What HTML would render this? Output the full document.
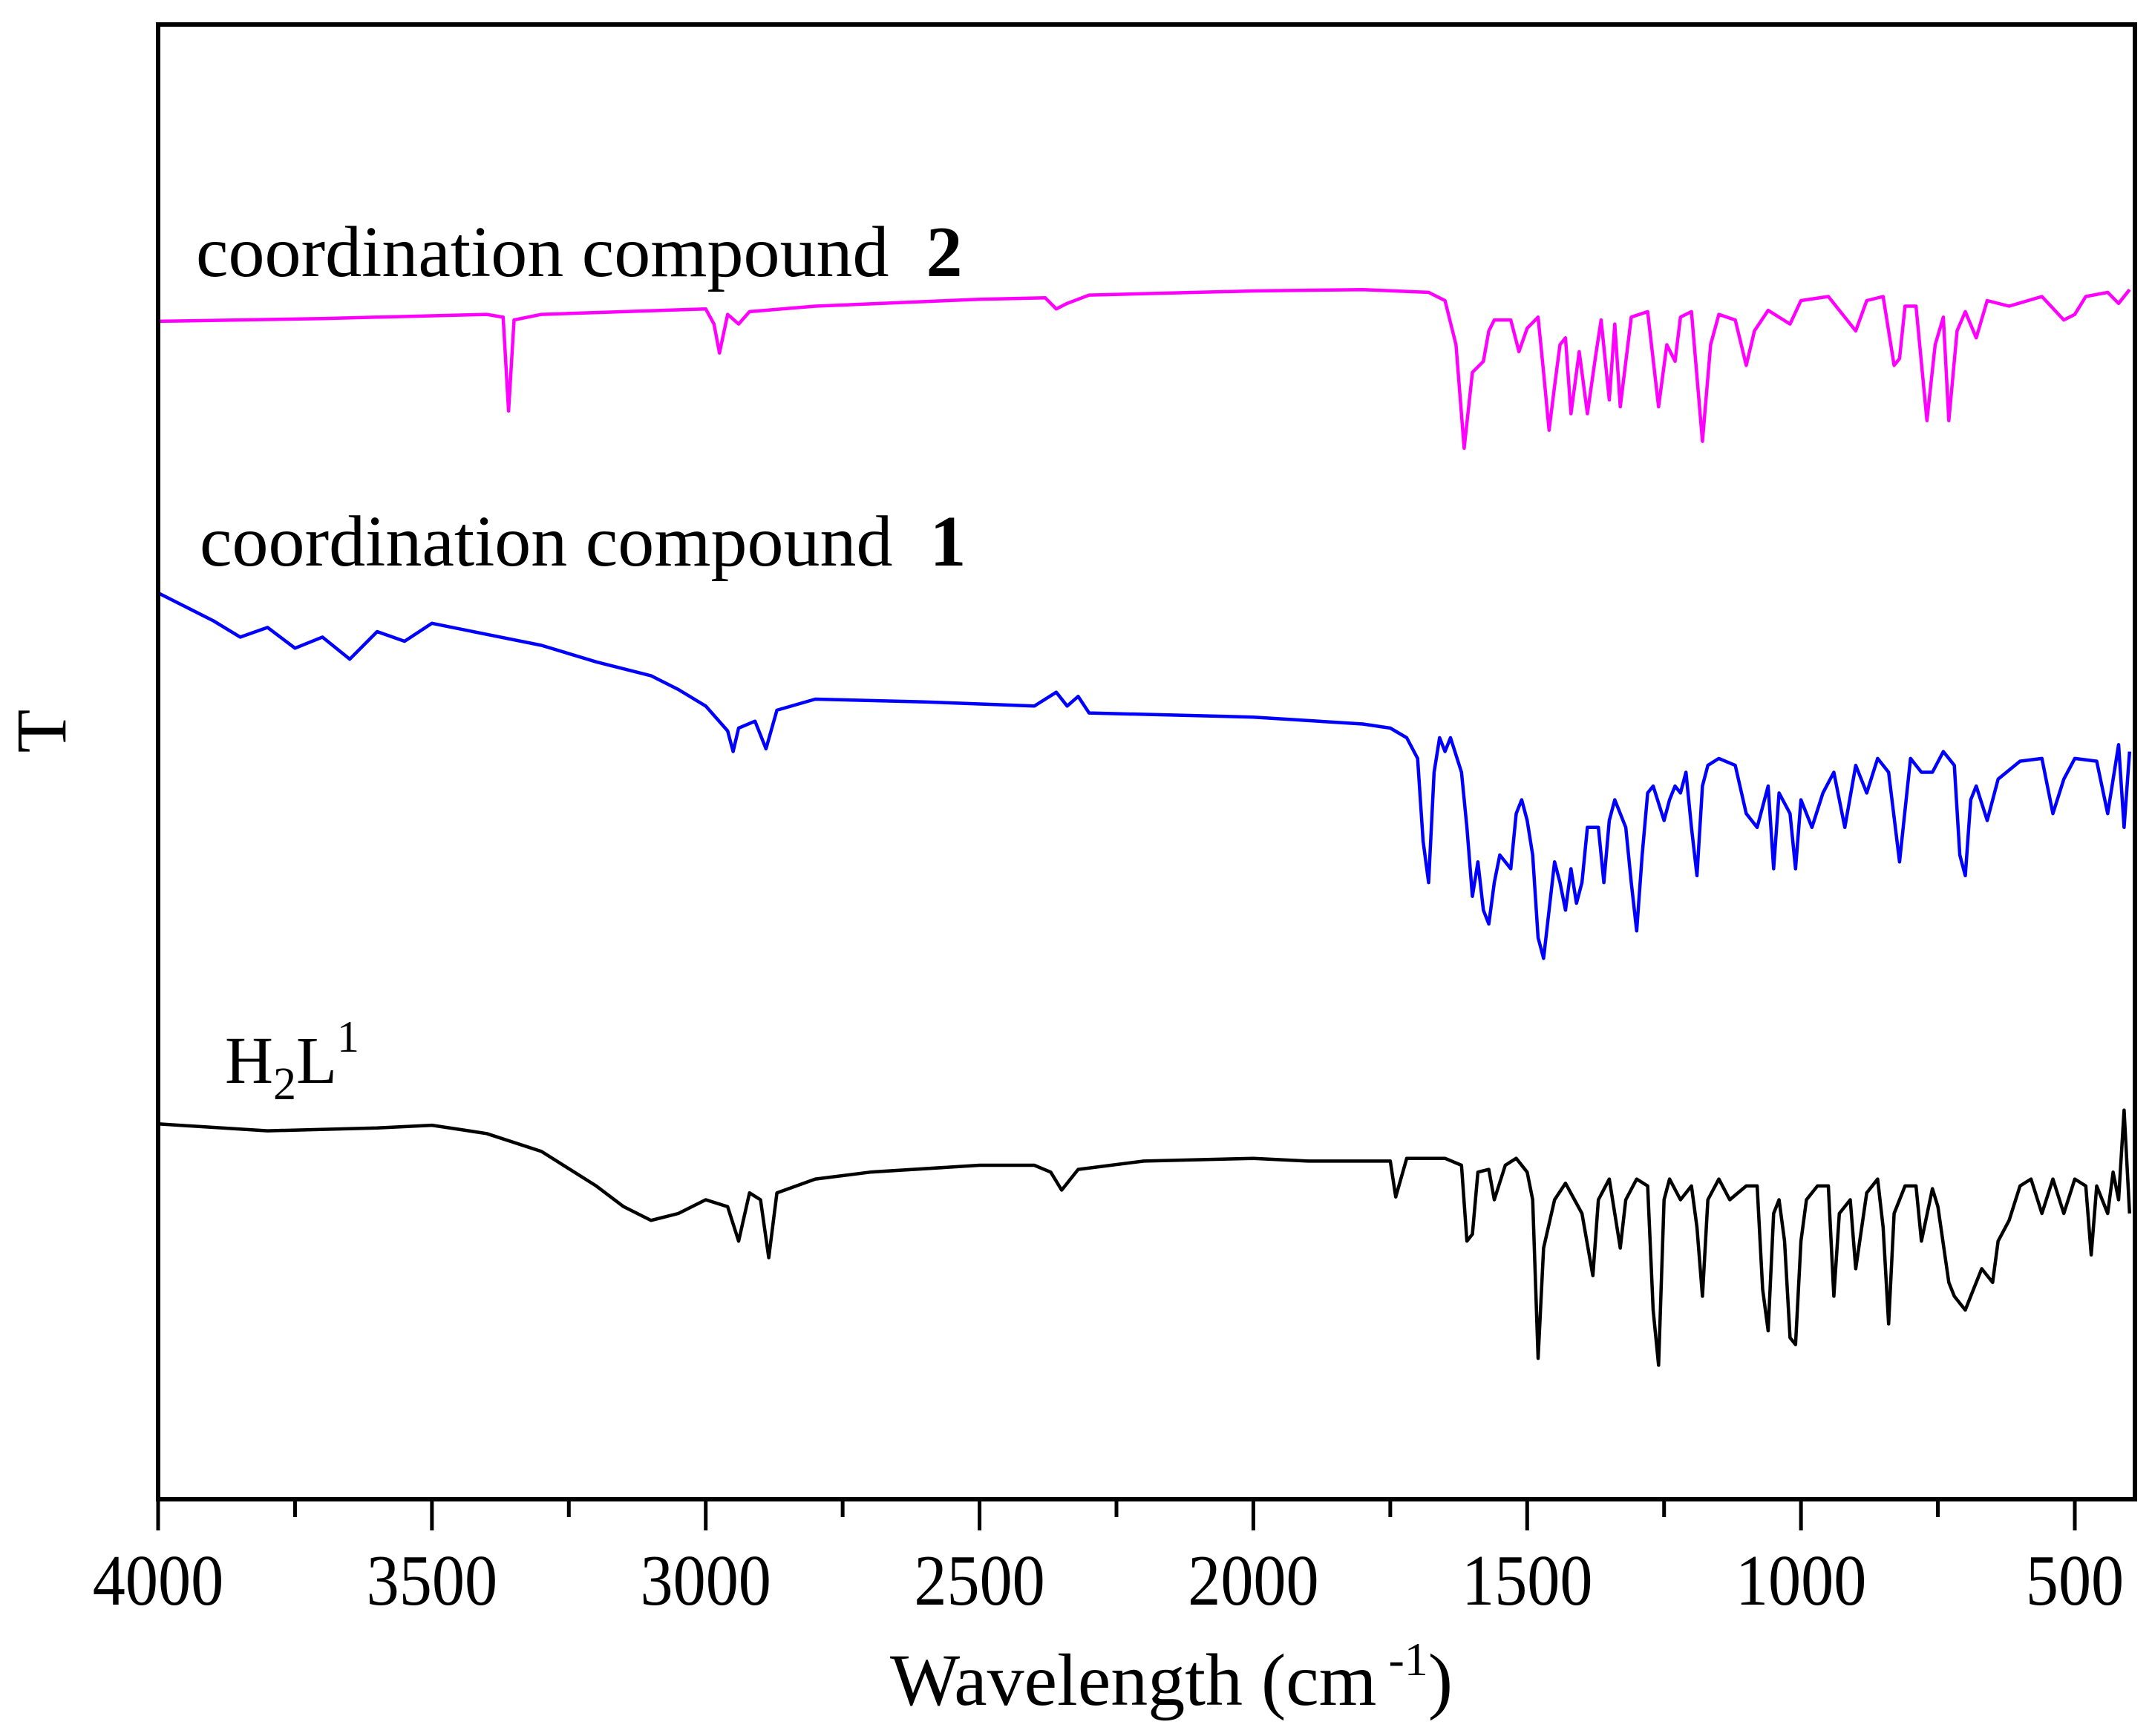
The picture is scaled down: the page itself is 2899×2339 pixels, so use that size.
<!DOCTYPE html>
<html><head><meta charset="utf-8"><style>
html,body{margin:0;padding:0;background:#fff;}
svg{display:block;}
text{font-family:"Liberation Serif",serif;fill:#000;}
</style></head><body>
<svg id="chart" width="2899" height="2339" viewBox="0 0 2899 2339">
<g id="series"></g>
<rect x="213" y="33" width="2663" height="1987" fill="none" stroke="#000" stroke-width="6"/>
<g id="xaxis"></g>
<text x="1578" y="2297" font-size="100" text-anchor="middle">Wavelength (cm<tspan dy="-40" font-size="64"> -1</tspan><tspan dy="40">)</tspan></text>
<text x="0" y="0" font-size="96" text-anchor="middle" transform="translate(88,985) rotate(-90)">T</text>
<text x="264" y="372" font-size="98">coordination compound<tspan dx="50" font-weight="bold">2</tspan></text>
<text x="269" y="762" font-size="98">coordination compound<tspan dx="50" font-weight="bold">1</tspan></text>
<text x="303" y="1459" font-size="90">H<tspan dy="22" font-size="62">2</tspan><tspan dy="-22">L</tspan><tspan dy="-42" font-size="60">1</tspan></text>
</svg>
<script>
const tickValues = [4000,3500,3000,2500,2000,1500,1000,500];
const minorTickValues = [3750,3250,2750,2250,1750,1250,750];
// magenta: compound 2
const wn2 = [4000,3700,3400,3370,3360,3350,3300,3000,2985,2975,2960,2940,2920,2800,2500,2380,2360,2340,2300,2000,1800,1680,1650,1630,1615,1600,1580,1570,1560,1530,1515,1500,1480,1470,1460,1450,1440,1430,1420,1405,1390,1375,1365,1350,1340,1330,1310,1280,1260,1245,1230,1220,1200,1180,1165,1150,1120,1100,1085,1060,1020,1000,950,900,880,850,830,820,810,790,770,755,740,730,715,700,680,660,620,560,520,500,480,440,420,400];
const y2 = [233,231,228,230,298,232,228,224,235,256,228,235,226,222,217,216,224,220,214,211,210,212,218,250,325,270,262,240,232,232,255,238,230,270,312,280,250,245,300,255,300,258,232,290,235,295,230,226,295,250,262,230,226,320,250,228,232,265,240,225,235,218,215,240,218,215,265,260,222,222,305,250,230,305,240,226,245,218,222,215,232,228,215,212,220,210];
// blue: compound 1
const wn1 = [4000,3950,3900,3850,3800,3750,3700,3650,3600,3550,3500,3400,3300,3200,3100,3050,3000,2960,2950,2940,2910,2890,2870,2800,2600,2400,2360,2340,2320,2300,2000,1800,1750,1720,1700,1690,1680,1670,1660,1650,1640,1620,1610,1600,1590,1580,1570,1560,1550,1530,1520,1510,1500,1490,1480,1470,1460,1450,1440,1430,1420,1410,1400,1390,1370,1360,1350,1340,1320,1310,1300,1290,1280,1270,1250,1240,1230,1220,1210,1200,1190,1180,1170,1150,1120,1100,1080,1060,1050,1040,1020,1010,1000,980,960,940,920,900,880,860,840,820,800,780,760,740,720,710,700,690,680,660,640,600,560,540,520,500,460,440,420,410,400];
const y1 = [430,440,450,462,455,470,462,478,458,465,452,460,468,480,490,500,512,530,545,528,523,543,515,507,509,512,502,512,505,517,520,525,528,535,550,610,640,560,535,545,535,560,600,650,625,660,670,640,620,630,590,580,595,620,680,695,660,625,640,660,630,655,640,600,600,640,595,580,600,640,675,620,575,570,595,580,570,575,560,600,635,570,555,550,555,590,600,570,630,575,590,630,580,600,575,560,600,555,575,550,560,625,550,560,560,545,555,620,635,580,570,595,565,552,550,590,565,550,552,590,540,600,545];
// black: H2L1
const wn0 = [4000,3800,3600,3500,3400,3300,3200,3150,3100,3050,3000,2960,2940,2920,2900,2885,2870,2800,2700,2500,2400,2370,2350,2320,2200,2000,1900,1750,1740,1720,1650,1620,1610,1600,1590,1570,1560,1540,1520,1500,1490,1480,1470,1450,1430,1400,1380,1370,1350,1330,1320,1300,1280,1270,1260,1250,1240,1220,1200,1190,1180,1170,1150,1130,1100,1080,1070,1060,1050,1040,1030,1020,1010,1000,990,970,950,940,930,910,900,880,860,850,840,830,810,790,780,760,750,730,720,700,690,670,650,640,620,600,580,560,540,520,500,480,470,460,440,430,420,410,400];
const y0 = [815,820,818,816,822,835,860,875,885,880,870,875,900,865,870,912,865,855,850,845,845,850,863,848,842,840,842,842,868,840,840,845,900,895,850,848,870,845,840,850,870,985,905,870,858,880,925,870,855,905,870,855,860,950,990,870,855,870,860,890,940,870,855,870,860,860,935,965,880,870,900,970,975,900,870,860,860,940,880,870,920,865,855,890,960,880,860,860,900,862,875,930,940,950,940,920,930,900,885,860,855,880,855,880,855,860,910,860,880,850,870,805,880];

const NS='http://www.w3.org/2000/svg';
function xScale(w){return 213+(4000-w)*(2795-213)/3500;}
function yScale(d){return d*1.858;}
const g=document.getElementById('series');
function draw(wn,ys,color,name){
  let d='';
  for(let i=0;i<wn.length;i++){d+=(i?'L':'M')+xScale(wn[i]).toFixed(1)+','+yScale(ys[i]).toFixed(1);}
  const p=document.createElementNS(NS,'path');
  p.setAttribute('d',d);p.setAttribute('fill','none');p.setAttribute('stroke',color);
  p.setAttribute('stroke-width','4.5');p.setAttribute('stroke-linejoin','round');
  
  
  g.appendChild(p);
}
draw(wn2,y2,'#ff00ff','spectrum-compound-2');
draw(wn1,y1,'#0000ff','spectrum-compound-1');
draw(wn0,y0,'#000000','spectrum-h2l1');
const ax=document.getElementById('xaxis');
tickValues.forEach(v=>{
  const x=xScale(v);
  const l=document.createElementNS(NS,'line');
  l.setAttribute('x1',x);l.setAttribute('x2',x);l.setAttribute('y1',2020);l.setAttribute('y2',2062);
  l.setAttribute('stroke','#000');l.setAttribute('stroke-width','5');
  
  
  ax.appendChild(l);
  const t=document.createElementNS(NS,'text');
  t.setAttribute('x',0);t.setAttribute('y',0);t.setAttribute('font-size','98');t.setAttribute('text-anchor','middle');
  t.setAttribute('transform','translate('+x+',2162) scale(0.9,1)');
  t.textContent=v;
  
  
  ax.appendChild(t);
});
minorTickValues.forEach(v=>{
  const x=xScale(v);
  const l=document.createElementNS(NS,'line');
  l.setAttribute('x1',x);l.setAttribute('x2',x);l.setAttribute('y1',2020);l.setAttribute('y2',2044);
  l.setAttribute('stroke','#000');l.setAttribute('stroke-width','5');
  
  
  ax.appendChild(l);
});
</script>
</body></html>
